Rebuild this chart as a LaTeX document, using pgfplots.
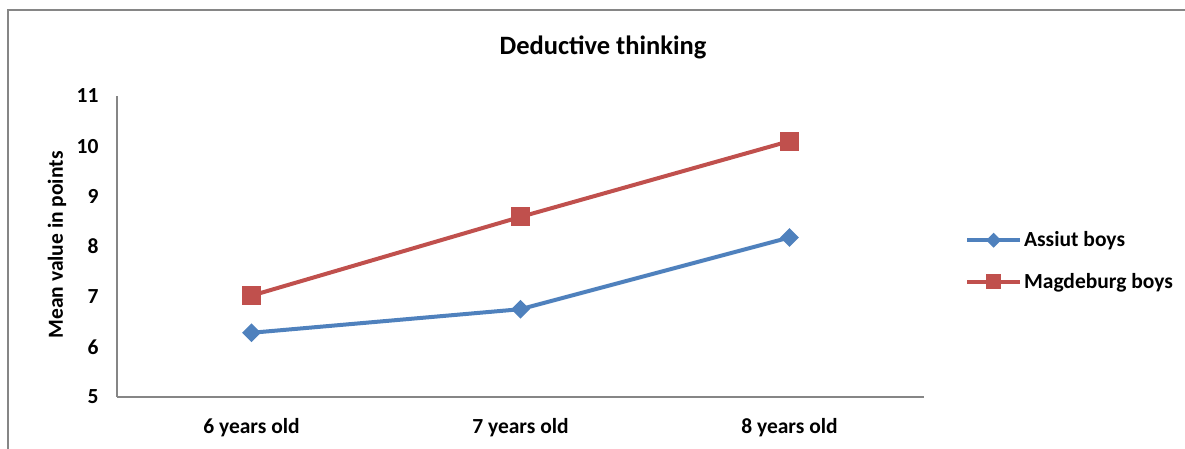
\documentclass[border=0pt]{standalone}
\usepackage{fontspec}
\setmainfont{Carlito}
\usepackage{pgfplots}
\pgfplotsset{compat=1.18}
\definecolor{framec}{RGB}{134,134,134}
\definecolor{cblue}{RGB}{79,129,189}
\definecolor{cred}{RGB}{192,80,77}
\begin{document}
\begin{tikzpicture}[x=1bp,y=1bp]
\useasboundingbox (0,0) rectangle (1185,449);
\draw[framec, line width=2bp] (8,0) -- (8,439) -- (1185,439);
\node[font=\fontsize{26.5bp}{30bp}\selectfont\bfseries] at (603,402) {Deductive thinking};
\begin{axis}[
  at={(117bp,52bp)}, anchor=south west,
  width=807bp, height=301bp, scale only axis,
  xmin=-0.5, xmax=2.5, ymin=5, ymax=11,
  ytick={5,6,7,8,9,10,11},
  xtick={0,1,2},
  xticklabels={6 years old, 7 years old, 8 years old},
  axis x line=bottom, axis y line=left,
  axis line style={framec, line width=2bp, -},
  major tick length=0pt,
  tick label style={font=\fontsize{21.5bp}{24bp}\selectfont\bfseries},
  /pgf/number format/assume math mode=true,
  yticklabel style={xshift=-15bp},
  xticklabel style={yshift=-18bp},
  ylabel={Mean value in points},
  ylabel style={at={(axis description cs:-0.0743,0.505)}, anchor=center, font=\fontsize{21.5bp}{24bp}\selectfont\bfseries},
  clip=false,
  legend style={at={(axis description cs:1.047,0.452)}, anchor=west, draw=none, fill=none,
    font=\fontsize{21.5bp}{24bp}\selectfont\bfseries, row sep=21bp},
  legend cell align=left,
  legend image code/.code={\draw[#1, mark repeat=2, mark phase=2, every mark/.append style={scale=0.72}] plot coordinates {(0bp,0bp) (26.5bp,0bp) (53bp,0bp)};},
]
\addplot[cblue, line width=4bp, mark=square*, mark size=4.6bp, mark options={rotate=45, solid}] coordinates {(0,6.28) (1,6.75) (2,8.18)};
\addlegendentry{Assiut boys}
\addplot[cred, line width=4bp, mark=square*, mark size=7.5bp, mark options={solid}] coordinates {(0,7.02) (1,8.59) (2,10.1)};
\addlegendentry{Magdeburg boys}
\end{axis}
\end{tikzpicture}
\end{document}
